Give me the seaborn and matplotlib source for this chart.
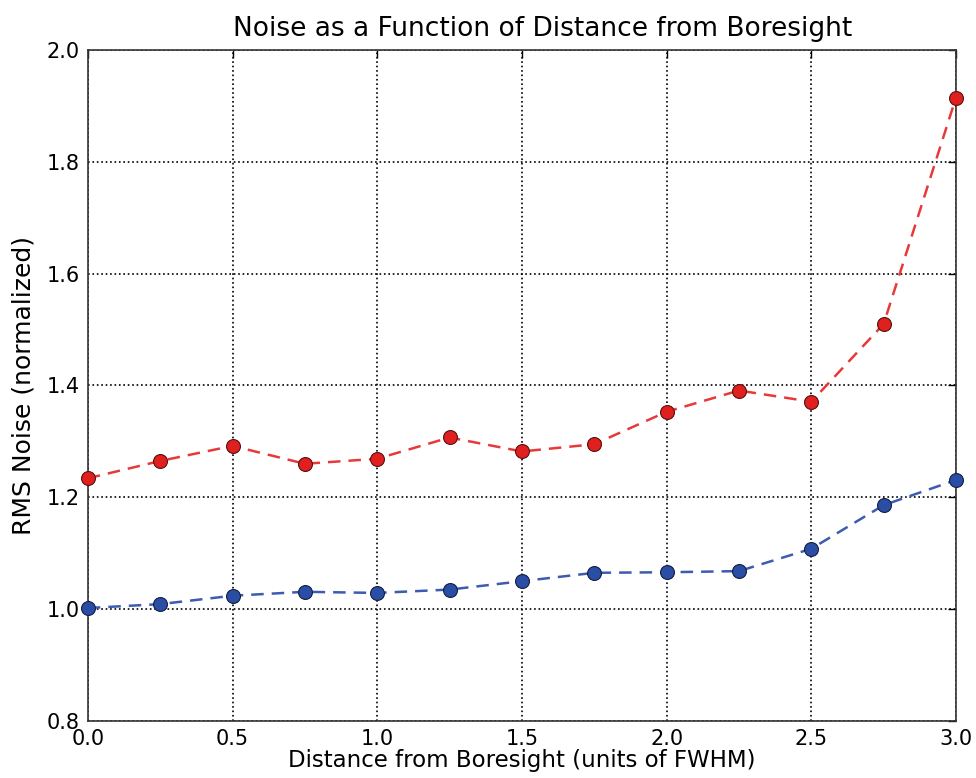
import matplotlib
matplotlib.use("Agg")
import matplotlib.pyplot as plt
import seaborn as sns
import pandas as pd

distance = [0.0, 0.25, 0.5, 0.75, 1.0, 1.25, 1.5, 1.75, 2.0, 2.25, 2.5, 2.75, 3.0]
noise_red = [1.234, 1.265, 1.292, 1.260, 1.269, 1.307, 1.282, 1.295, 1.353, 1.391, 1.371, 1.510, 1.915]
noise_blue = [1.002, 1.009, 1.024, 1.031, 1.029, 1.035, 1.050, 1.065, 1.066, 1.068, 1.108, 1.186, 1.231]

x_ticks = [0.0, 0.5, 1.0, 1.5, 2.0, 2.5, 3.0]
y_ticks = [0.8, 1.0, 1.2, 1.4, 1.6, 1.8, 2.0]

sns.set_theme(style="white")
plt.rcParams['font.family'] = ['DejaVu Sans']
plt.rcParams['text.color'] = 'black'
plt.rcParams['axes.labelcolor'] = 'black'

fig = plt.figure(figsize=(9.76, 7.78), dpi=100)
ax = fig.add_axes([0.090, 0.0733, 0.8895, 0.8624])

df_red = pd.DataFrame({"d": distance, "n": noise_red})
df_blue = pd.DataFrame({"d": distance, "n": noise_blue})

sns.lineplot(data=df_red, x="d", y="n", ax=ax, color="#e8393a", dashes=(5, 3.2),
             linewidth=1.8, marker="o", markersize=10, markerfacecolor="#e01f1f",
             markeredgecolor="#5a1010", markeredgewidth=0.8, clip_on=False, zorder=3)
sns.lineplot(data=df_blue, x="d", y="n", ax=ax, color="#3d5cb0", dashes=(5, 3.2),
             linewidth=1.8, marker="o", markersize=10, markerfacecolor="#2a4ea6",
             markeredgecolor="#141e40", markeredgewidth=0.8, clip_on=False, zorder=3)
for line in ax.get_lines():
    line.set_dashes((5, 3.2))

ax.set_xlim(0, 3.0)
ax.set_ylim(0.8, 2.0)
ax.set_xticks(x_ticks)
ax.set_yticks(y_ticks)
ax.set_xticklabels([f"{v:.1f}" for v in x_ticks])
ax.set_yticklabels([f"{v:.1f}" for v in y_ticks])
ax.grid(True, color="black", linestyle=":", linewidth=1.2)
ax.set_axisbelow(True)
ax.tick_params(direction="in", length=6, width=1, top=True, right=True, labelsize=15, pad=6,
               colors="black")
for s in ax.spines.values():
    s.set_color("#333333")
    s.set_linewidth(1.2)

ax.set_title("Noise as a Function of Distance from Boresight", fontsize=19, pad=10, x=0.524)
ax.set_xlabel("Distance from Boresight (units of FWHM)", fontsize=16.5, labelpad=0)
ax.set_ylabel("RMS Noise (normalized)", fontsize=18, labelpad=8)

fig.savefig("out.png", dpi=100)
